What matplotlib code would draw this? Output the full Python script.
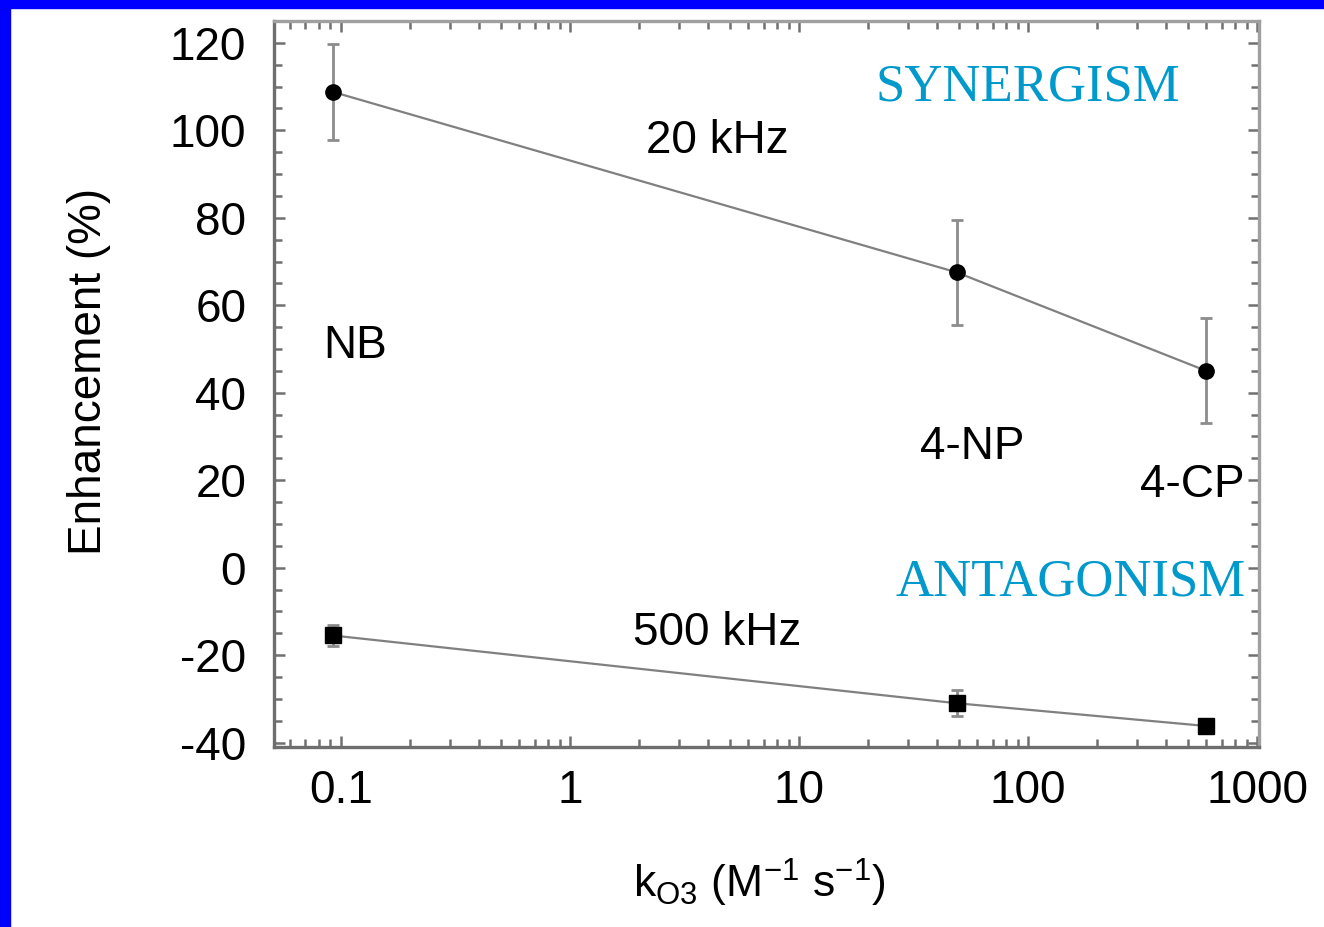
import matplotlib
matplotlib.use("Agg")
import matplotlib.pyplot as plt
from matplotlib.patches import Rectangle
from matplotlib.ticker import MultipleLocator, LogLocator, FixedLocator, FixedFormatter, NullFormatter

# data
compounds = ["NB", "4-NP", "4-CP"]
k_o3 = [0.092, 49, 600]
enh_20k = [108.8, 67.5, 45.0]
err_20k = [11, 12, 12]
enh_500k = [-15.5, -31.0, -36.2]
err_500k = [2.5, 3, 1]

x_ticks = [0.1, 1, 10, 100, 1000]
x_labels = ["0.1", "1", "10", "100", "1000"]
y_ticks = [-40, -20, 0, 20, 40, 60, 80, 100, 120]

plt.rcParams["font.family"] = ["Liberation Sans", "DejaVu Sans"]
plt.rcParams["mathtext.fontset"] = "custom"
plt.rcParams["mathtext.rm"] = "Liberation Sans"
plt.rcParams["mathtext.it"] = "Liberation Sans"
plt.rcParams["axes.unicode_minus"] = False

fig = plt.figure(figsize=(13.24, 9.27), dpi=100)
ax = fig.add_axes([274 / 1324, 1 - 747 / 927, 985 / 1324, 726 / 927])

line_c = "#808080"
ax.errorbar(k_o3, enh_20k, yerr=err_20k, fmt="o", color="black", ms=11,
            ecolor="#8c8c8c", elinewidth=2, capsize=4, capthick=2, zorder=3)
ax.plot(k_o3, enh_20k, "-", color=line_c, lw=1.6, zorder=2)
ax.errorbar(k_o3, enh_500k, yerr=err_500k, fmt="s", color="black", ms=12,
            ecolor="#8c8c8c", elinewidth=2, capsize=4, capthick=2, zorder=3)
ax.plot(k_o3, enh_500k, "-", color=line_c, lw=1.6, zorder=2)

ax.set_xscale("log")
ax.set_xlim(0.051, 1020)
ax.set_ylim(-41, 125)

ax.xaxis.set_major_locator(FixedLocator(x_ticks))
ax.xaxis.set_major_formatter(FixedFormatter(x_labels))
ax.xaxis.set_minor_locator(LogLocator(base=10, subs=range(2, 10), numticks=20))
ax.xaxis.set_minor_formatter(NullFormatter())
ax.yaxis.set_major_locator(FixedLocator(y_ticks))
ax.yaxis.set_minor_locator(MultipleLocator(5))

ax.tick_params(which="both", direction="in", top=True, right=True,
               colors="#707070", labelcolor="black", width=1.8)
ax.tick_params(which="major", length=8, labelsize=33)
ax.tick_params(which="minor", length=6)
ax.tick_params(axis="y", pad=20)
ax.tick_params(axis="x", pad=16)

for side in ["left", "bottom"]:
    ax.spines[side].set_color("#6e6e6e")
    ax.spines[side].set_linewidth(2.4)
for side in ["top", "right"]:
    ax.spines[side].set_color("#a0a0a0")
    ax.spines[side].set_linewidth(2.4)

ax.set_ylabel("Enhancement (%)", fontsize=33)
ax.yaxis.set_label_coords(-0.165, 0.517)
ax.set_xlabel(r"k$_{\mathrm{O3}}$ (M$^{-1}$ s$^{-1}$)", fontsize=32)
ax.xaxis.set_label_coords(0.493, -0.152)

# annotations
teal = "#0099cc"
ax.text(100, 109.7, "SYNERGISM", color=teal, fontsize=38, family="Liberation Serif",
        ha="center", va="center")
ax.text(153, -3.3, "ANTAGONISM", color=teal, fontsize=38, family="Liberation Serif",
        ha="center", va="center")
ax.text(4.4, 97.6, "20 kHz", fontsize=33, ha="center", va="center")
ax.text(4.4, -15.0, "500 kHz", fontsize=33, ha="center", va="center")
ax.text(0.115, 50.6, compounds[0], fontsize=33, ha="center", va="center")
ax.text(57, 27.5, compounds[1], fontsize=33, ha="center", va="center")
ax.text(520, 18.9, compounds[2], fontsize=33, ha="center", va="center")

# blue frame on left and top edges
fig.patches.append(Rectangle((0, 0), 10 / 1324, 1, transform=fig.transFigure,
                             color="#0000ff", zorder=0))
fig.patches.append(Rectangle((0, 1 - 8 / 927), 1, 8 / 927, transform=fig.transFigure,
                             color="#0000ff", zorder=0))

fig.savefig("out.png", dpi=100)
plt.close(fig)
